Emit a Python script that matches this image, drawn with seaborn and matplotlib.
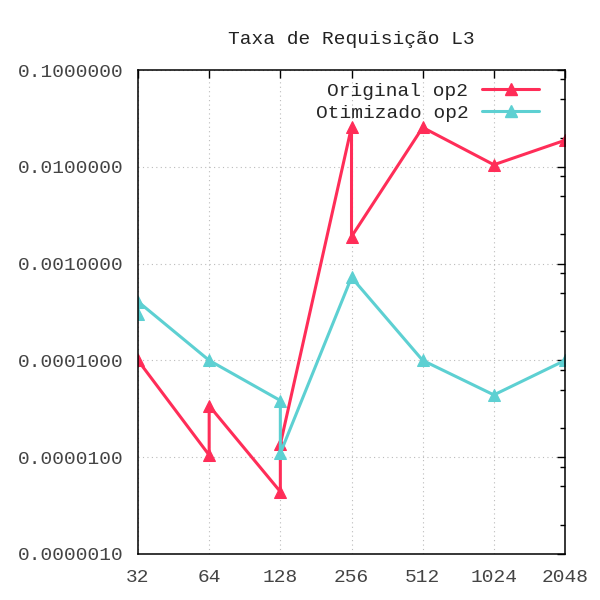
import matplotlib
matplotlib.use('Agg')
import matplotlib.pyplot as plt
import matplotlib.ticker as mticker
from matplotlib.lines import Line2D
import pandas as pd
import seaborn as sns

# data (points in drawing order, repeated x = vertical jump)
x_original = [32, 64, 64, 128, 128, 256, 256, 512, 1024, 2048]
y_original = [1.0e-4, 1.05e-5, 3.4e-5, 4.4e-6, 1.36e-5, 0.0258, 1.9e-3, 0.0255, 0.0105, 0.0188]
x_otimizado = [32, 32, 64, 128, 128, 256, 512, 1024, 2048]
y_otimizado = [3.05e-4, 4.05e-4, 1.0e-4, 3.85e-5, 1.1e-5, 7.2e-4, 1.0e-4, 4.4e-5, 1.0e-4]
series_names = ['Original op2', 'Otimizado op2']
colors = ['#ff2d58', '#5dd0d2']
x_ticks = [32, 64, 128, 256, 512, 1024, 2048]
titulo = 'Taxa de Requisição L3'

df = pd.concat([
    pd.DataFrame({'x': x_original, 'y': y_original, 'serie': series_names[0]}),
    pd.DataFrame({'x': x_otimizado, 'y': y_otimizado, 'serie': series_names[1]}),
], ignore_index=True)

sns.set_style('white')
plt.rcParams['font.family'] = ['Liberation Mono', 'DejaVu Sans Mono']
plt.rcParams['font.size'] = 14

fig = plt.figure(figsize=(6, 6), dpi=100)
ax = fig.add_axes([0.23, 0.0767, 0.7117, 0.8066])

for nome, cor in zip(series_names, colors):
    sub = df[df['serie'] == nome]
    sns.lineplot(data=sub, x='x', y='y', estimator=None, sort=False, ax=ax,
                 color=cor, linewidth=2.2, marker='^', markersize=9,
                 markeredgecolor=cor, legend=False)

ax.set_xscale('log', base=2)
ax.set_yscale('log')
ax.set_xlim(32, 2048)
ax.set_ylim(1e-6, 1e-1)
ax.set_xticks(x_ticks)
ax.xaxis.set_major_formatter(mticker.FixedFormatter([str(v) for v in x_ticks]))
ax.xaxis.set_minor_locator(mticker.NullLocator())
ax.yaxis.set_major_locator(mticker.LogLocator(base=10, numticks=10))
ax.yaxis.set_minor_locator(mticker.LogLocator(base=10, subs=[2, 5, 8], numticks=20))
ax.yaxis.set_major_formatter(mticker.FormatStrFormatter('%.7f'))
ax.yaxis.set_minor_formatter(mticker.NullFormatter())

ax.tick_params(which='both', direction='in', top=True, right=True, colors='black',
               labelcolor='#444444', labelsize=14)
ax.tick_params(which='major', length=6, width=1)
ax.tick_params(which='minor', length=3.5, width=1)
ax.tick_params(axis='y', pad=10)
ax.tick_params(axis='x', pad=11)

ax.grid(True, which='major', linestyle=(0, (1, 3)), color='#bbbbbb', linewidth=0.8)
for s in ax.spines.values():
    s.set_color('black')
    s.set_linewidth(1.1)
ax.set_xlabel('')
ax.set_ylabel('')
ax.set_title(titulo, fontsize=14, color='#222222', pad=19)

handles = [Line2D([], [], color=c, linewidth=2.2, marker='^', markersize=9) for c in colors]
ax.legend(handles, series_names, loc='upper right', bbox_to_anchor=(0.958, 0.99),
          frameon=False, markerfirst=False, handlelength=2.95, handletextpad=0.7,
          labelspacing=0.2, fontsize=14, borderaxespad=0)

fig.savefig('out.png', dpi=100)
